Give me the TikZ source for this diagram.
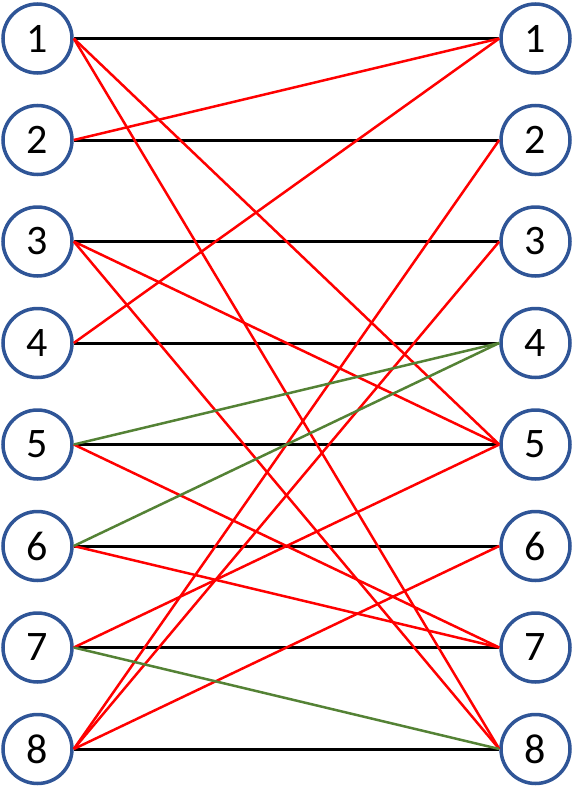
\documentclass[tikz,border=0pt]{standalone}
\usepackage{fontspec}
\setmainfont{Carlito}
\usepackage{tikz}

\definecolor{ringblue}{RGB}{47,85,151}
\definecolor{linkred}{RGB}{255,0,0}
\definecolor{linkgreen}{RGB}{84,130,53}

\begin{document}
\begin{tikzpicture}[x=1pt, y=-1pt,
	vertex/.style={circle, draw=ringblue, line width=3.5pt, minimum size=69pt, inner sep=0pt, font=\fontsize{42}{42}\selectfont},
	match/.style={black, line width=3pt},
	cross/.style={linkred, line width=2.5pt},
	swap/.style={linkgreen, line width=2.5pt}]
	\useasboundingbox (0,0) rectangle (573,798);
	\foreach \i in {1,...,8} {
		\node[vertex] (L\i) at (37.5,{38.5+101.5*(\i-1)}) {\i};
		\node[vertex] (R\i) at (535.5,{38.5+101.5*(\i-1)}) {\i};
	}
	\foreach \i in {1,...,8} {\draw[match] (L\i.east) -- (R\i.west);}
	\foreach \a/\b in {1/5, 1/8, 2/1, 3/5, 3/8, 4/1, 5/7, 6/7, 7/5, 8/2, 8/3, 8/6} {\draw[cross] (L\a.east) -- (R\b.west);}
	\foreach \a/\b in {5/4, 6/4, 7/8} {\draw[swap] (L\a.east) -- (R\b.west);}
\end{tikzpicture}
\end{document}
